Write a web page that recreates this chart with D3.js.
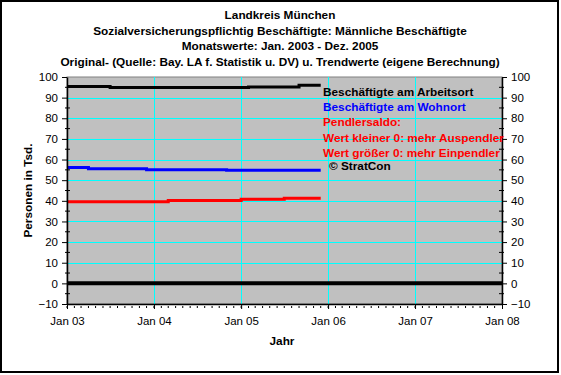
<!DOCTYPE html>
<html>
<head>
<meta charset="utf-8">
<script src="https://cdn.jsdelivr.net/npm/d3@7"></script>
<style>
  body { margin: 0; background: #fff; }
  svg text { font-family: "Liberation Sans", Arial, sans-serif; }
</style>
</head>
<body>
<div id="chart"></div>
<script>
// Titles of the chart
var titles = [
    "Landkreis München",
    "Sozialversicherungspflichtig Beschäftigte: Männliche Beschäftigte",
    "Monatswerte: Jan. 2003 - Dez. 2005",
    "Original- (Quelle: Bay. LA f. Statistik u. DV) u. Trendwerte (eigene Berechnung)"
];

// Months Jan 2003 .. Dec 2005
var months = d3.timeMonths(new Date(2003, 0, 1), new Date(2006, 0, 1));

// Beschäftigte am Arbeitsort (Tsd.)
var arbeitsort = [
    95.4, 95.4, 95.4, 95.4, 95.4, 95.4,
    94.9, 94.9, 94.9, 94.9, 94.9, 94.9,
    94.9, 94.9, 94.9, 94.9, 94.9, 94.9,
    94.9, 94.9, 94.9, 94.9, 94.9, 94.9,
    94.9, 95.2, 95.2, 95.2, 95.2, 95.2,
    95.2, 95.2, 96.0, 96.0, 96.0, 96.0
];

// Beschäftigte am Wohnort (Tsd.)
var wohnort = [
    56.2, 56.2, 56.2, 55.6, 55.6, 55.6,
    55.6, 55.6, 55.6, 55.6, 55.6, 55.1,
    55.1, 55.1, 55.1, 55.1, 55.1, 55.1,
    55.1, 55.1, 55.1, 55.1, 54.8, 54.8,
    54.8, 54.8, 54.8, 54.8, 54.8, 54.8,
    54.8, 54.8, 54.8, 54.8, 54.8, 54.8
];

// Pendlersaldo (Tsd.)
var saldo = [
    39.6, 39.6, 39.6, 39.6, 39.6, 39.6,
    39.6, 39.6, 39.6, 39.6, 39.6, 39.6,
    39.6, 39.6, 40.2, 40.2, 40.2, 40.2,
    40.2, 40.2, 40.2, 40.2, 40.2, 40.2,
    40.7, 40.7, 40.7, 40.7, 40.7, 40.7,
    41.2, 41.2, 41.2, 41.2, 41.2, 41.2
];

var yTicks = [-10, 0, 10, 20, 30, 40, 50, 60, 70, 80, 90, 100];

var legendItems = [
    { text: "Beschäftigte am Arbeitsort", colour: "#000000" },
    { text: "Beschäftigte am Wohnort", colour: "#0000ff" },
    { text: "Pendlersaldo:", colour: "#ff0000" },
    { text: "Wert kleiner 0: mehr Auspendler", colour: "#ff0000" },
    { text: "Wert größer 0: mehr Einpendler", colour: "#ff0000" }
];

var width = 561,
    height = 375,
    margin = { top: 77, right: 59, bottom: 71, left: 67 },
    chartWidth = width - margin.left - margin.right,
    chartHeight = height - margin.top - margin.bottom,
    // bold text size (titles, legend, axis titles)
    boldSize = "11.8px";

var svg = d3.select("#chart").append("svg")
    .attr("width", width)
    .attr("height", height);

// outer frame
svg.append("rect")
    .attr("x", 1).attr("y", 1)
    .attr("width", 557).attr("height", 371)
    .style("fill", "#ffffff")
    .style("stroke", "#000")
    .style("stroke-width", 2);

// titles
svg.selectAll("text.title")
    .data(titles)
    .enter().append("text")
    .attr("class", "title")
    .attr("x", 280)
    .attr("y", function (d, i) { return 19 + i * 15.5; })
    .attr("text-anchor", "middle")
    .style("font-size", boldSize)
    .style("font-weight", "bold")
    .text(function (d) { return d; });

var x = d3.scaleTime()
    .domain([new Date(2003, 0, 1), new Date(2008, 0, 1)])
    .range([0, chartWidth]);

var y = d3.scaleLinear()
    .domain([-10, 100])
    .range([chartHeight, 0]);

var g = svg.append("g")
    .attr("transform", "translate(" + margin.left + "," + margin.top + ")");

// plot area
g.append("rect")
    .attr("width", chartWidth)
    .attr("height", chartHeight)
    .style("fill", "#c0c0c0")
    .style("stroke", "#808080")
    .style("stroke-width", 1);

// gridlines
var yearTicks = x.ticks(d3.timeYear.every(1));
g.selectAll("line.hgrid")
    .data(yTicks.filter(function (d) { return d > -10 && d < 100; }))
    .enter().append("line")
    .attr("class", "hgrid")
    .attr("x1", 0).attr("x2", chartWidth)
    .attr("y1", function (d) { return Math.round(y(d)) + 0.5; })
    .attr("y2", function (d) { return Math.round(y(d)) + 0.5; })
    .style("stroke", "#00ffff");

g.selectAll("line.vgrid")
    .data(yearTicks.slice(1, -1))
    .enter().append("line")
    .attr("class", "vgrid")
    .attr("x1", function (d) { return Math.round(x(d)) + 0.5; })
    .attr("x2", function (d) { return Math.round(x(d)) + 0.5; })
    .attr("y1", 0).attr("y2", chartHeight)
    .style("stroke", "#00ffff");

// zero line
g.append("line")
    .attr("x1", 0).attr("x2", chartWidth)
    .attr("y1", y(0)).attr("y2", y(0))
    .style("stroke", "#000")
    .style("stroke-width", 4);

// series
var series = [
    { values: wohnort, colour: "#0000ff" },
    { values: saldo, colour: "#ff0000" },
    { values: arbeitsort, colour: "#000000" }
];

var line = d3.line()
    .x(function (d) { return x(d.date); })
    .y(function (d) { return y(d.value); })
    .curve(d3.curveStepAfter);

g.selectAll("path.series")
    .data(series)
    .enter().append("path")
    .attr("class", "series")
    .attr("d", function (s) {
        return line(months.map(function (m, i) { return { date: m, value: s.values[i] }; }));
    })
    .style("fill", "none")
    .style("stroke", function (s) { return s.colour; })
    .style("stroke-width", 3);

// axes
var yMinor = d3.range(-5, 100, 10);

var leftAxis = g.append("g")
    .call(d3.axisLeft(y).tickValues(yTicks).tickSizeInner(5).tickSizeOuter(0).tickPadding(4));
var rightAxis = g.append("g")
    .attr("transform", "translate(" + chartWidth + ",0)")
    .call(d3.axisRight(y).tickValues(yTicks).tickSizeInner(5).tickSizeOuter(0).tickPadding(4));
var bottomAxis = g.append("g")
    .attr("transform", "translate(0," + chartHeight + ")")
    .call(d3.axisBottom(x).tickValues(yearTicks).tickFormat(d3.timeFormat("%b %y"))
        .tickSizeInner(5).tickSizeOuter(0).tickPadding(8));

[leftAxis, rightAxis, bottomAxis].forEach(function (a) {
    a.select(".domain").style("stroke", "#000").style("stroke-width", 1.5);
    a.selectAll("text").style("font-size", "11.5px").style("fill", "#000");
    a.selectAll(".tick line").style("stroke", "#000");
});

// minor ticks
g.selectAll("line.yminorL")
    .data(yMinor)
    .enter().append("line")
    .attr("x1", -2).attr("x2", 3)
    .attr("y1", function (d) { return y(d); })
    .attr("y2", function (d) { return y(d); })
    .style("stroke", "#000");

g.selectAll("line.yminorR")
    .data(yMinor)
    .enter().append("line")
    .attr("x1", chartWidth - 3).attr("x2", chartWidth + 2)
    .attr("y1", function (d) { return y(d); })
    .attr("y2", function (d) { return y(d); })
    .style("stroke", "#000");

g.selectAll("line.xminor")
    .data(d3.timeMonths(new Date(2003, 0, 1), new Date(2008, 0, 1)))
    .enter().append("line")
    .attr("x1", function (d) { return x(d); })
    .attr("x2", function (d) { return x(d); })
    .attr("y1", chartHeight + 2).attr("y2", chartHeight + 4)
    .style("stroke", "#000");

// axis titles
svg.append("text")
    .attr("transform", "translate(32," + (margin.top + chartHeight / 2) + ") rotate(-90)")
    .attr("text-anchor", "middle")
    .style("font-size", boldSize)
    .style("font-weight", "bold")
    .text("Personen in Tsd.");

svg.append("text")
    .attr("x", 282)
    .attr("y", 345)
    .attr("text-anchor", "middle")
    .style("font-size", boldSize)
    .style("font-weight", "bold")
    .text("Jahr");

// legend
svg.selectAll("text.legend")
    .data(legendItems)
    .enter().append("text")
    .attr("class", "legend")
    .attr("x", 323)
    .attr("y", function (d, i) { return 96 + i * 15.2; })
    .style("font-size", boldSize)
    .style("font-weight", "bold")
    .style("fill", function (d) { return d.colour; })
    .text(function (d) { return d.text; });

svg.append("text")
    .attr("x", 329)
    .attr("y", 170)
    .style("font-size", boldSize)
    .style("font-weight", "bold")
    .text("© StratCon");
</script>
</body>
</html>
